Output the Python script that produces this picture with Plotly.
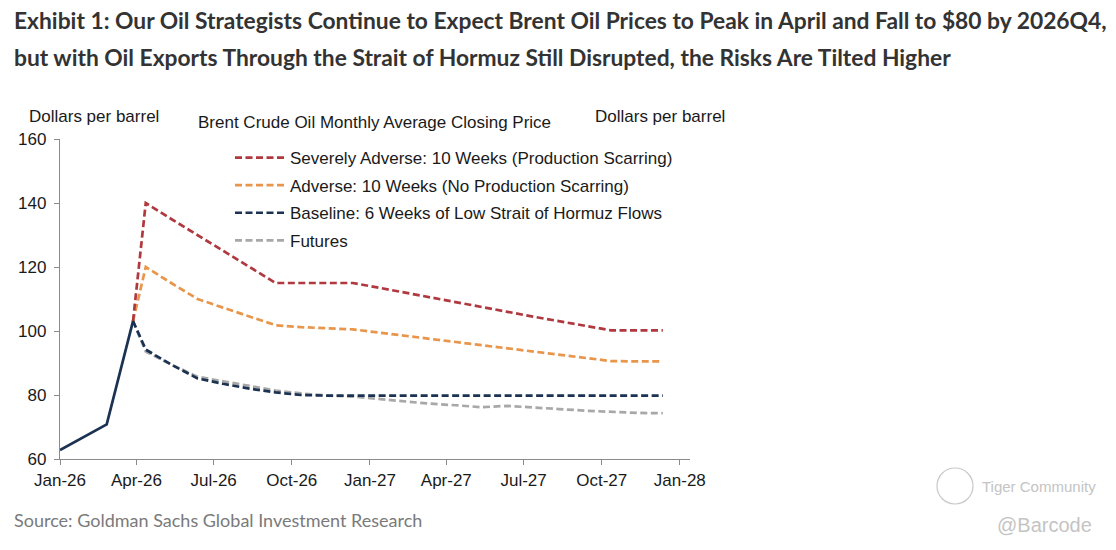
import plotly.graph_objects as go

# ---------------- data ----------------
hist_dates = ["2026-01-01", "2026-02-25", "2026-03-28"]
hist_vals = [62.8, 70.8, 103.1]

fc_dates = ["2026-03-28",
            "2026-04-12", "2026-05-12", "2026-06-12", "2026-07-12", "2026-08-12", "2026-09-12",
            "2026-10-12", "2026-11-12", "2026-12-12",
            "2027-01-12", "2027-02-12", "2027-03-12", "2027-04-12", "2027-05-12", "2027-06-12",
            "2027-07-12", "2027-08-12", "2027-09-12", "2027-10-12", "2027-11-12", "2027-12-12"]

severe_vals = [103.1, 140, 135, 130, 125, 120, 115, 115, 115, 115,
               113.5, 112, 110.5, 109, 107.5, 106, 104.5, 103, 101.5, 100.2, 100.2, 100.2]
adverse_vals = [103.1, 120, 115, 110, 107.3, 104.5, 101.8, 101.2, 100.8, 100.5,
                99.5, 98.5, 97.5, 96.5, 95.5, 94.5, 93.5, 92.5, 91.5, 90.6, 90.5, 90.5]
baseline_vals = [103.1, 94.2, 89.5, 85.2, 83.5, 82.0, 80.8, 80.0, 79.8, 79.8,
                 79.8, 79.8, 79.8, 79.8, 79.8, 79.8, 79.8, 79.8, 79.8, 79.8, 79.8, 79.8]
futures_vals = [103.1, 93.6, 89.5, 85.7, 84.3, 82.8, 81.4, 80.5, 79.8, 79.5,
                78.7, 78.0, 77.3, 76.8, 76.2, 76.6, 76.0, 75.6, 75.1, 74.7, 74.4, 74.3]

series_names = ["Severely Adverse: 10 Weeks (Production Scarring)",
                "Adverse: 10 Weeks (No Production Scarring)",
                "Baseline: 6 Weeks of Low Strait of Hormuz Flows",
                "Futures"]

x_tickvals = ["2026-01-01", "2026-04-01", "2026-07-01", "2026-10-01", "2027-01-01",
              "2027-04-01", "2027-07-01", "2027-10-01", "2028-01-01"]
x_ticktext = ["Jan-26", "Apr-26", "Jul-26", "Oct-26", "Jan-27", "Apr-27", "Jul-27", "Oct-27", "Jan-28"]
y_tickvals = [60, 80, 100, 120, 140, 160]

# ---------------- styling ----------------
W, H = 1116, 550
L, R, T, B = 60, 426, 139, 91
PW, PH = W - L - R, H - T - B

def px_x(px):
    return (px - L) / PW

def px_y(py):
    return (H - B - py) / PH

RED = "#B0393F"
ORANGE = "#E8964C"
NAVY = "#1B3252"
GRAY = "#A8A8A8"
AXIS = "#8A8A8A"
FONT = "Liberation Sans, Arial, sans-serif"
NARROW = "Lato, sans-serif"
DASH = "7px,3.5px"

fig = go.Figure()

fig.add_trace(go.Scatter(x=fc_dates, y=futures_vals, mode="lines", name=series_names[3],
                         line=dict(color=GRAY, width=2.7, dash=DASH), legendrank=4, legendgroup="g4"))
fig.add_trace(go.Scatter(x=fc_dates, y=adverse_vals, mode="lines", name=series_names[1],
                         line=dict(color=ORANGE, width=2.7, dash=DASH), legendrank=2, legendgroup="g2"))
fig.add_trace(go.Scatter(x=fc_dates, y=severe_vals, mode="lines", name=series_names[0],
                         line=dict(color=RED, width=2.7, dash=DASH), legendrank=1, legendgroup="g1"))
fig.add_trace(go.Scatter(x=fc_dates, y=baseline_vals, mode="lines", name=series_names[2],
                         line=dict(color=NAVY, width=2.7, dash=DASH), legendrank=3, legendgroup="g3"))
fig.add_trace(go.Scatter(x=hist_dates, y=hist_vals, mode="lines", name="History",
                         line=dict(color=NAVY, width=2.7), showlegend=False))

axis_common = dict(
    showline=True, linecolor=AXIS, linewidth=1.3, showgrid=False, zeroline=False,
    ticks="outside", ticklen=5, tickcolor=AXIS, tickwidth=1.3,
    tickfont=dict(family=FONT, size=17, color="#1a1a1a"),
)

fig.update_layout(
    width=W, height=H,
    margin=dict(l=L, r=R, t=T, b=B, autoexpand=False),
    paper_bgcolor="white", plot_bgcolor="white",
    font=dict(family=FONT, size=17, color="#1a1a1a"),
    xaxis=dict(type="date", range=["2026-01-01", "2028-01-13"],
               tickvals=x_tickvals, ticktext=x_ticktext, **axis_common),
    yaxis=dict(range=[60, 160], tickvals=y_tickvals, ticklabelstandoff=4, **axis_common),
    yaxis2=dict(range=[60, 160], tickvals=y_tickvals, overlaying="y", side="right",
                anchor="x", **axis_common),
    legend=dict(x=px_x(230), y=px_y(140), xanchor="left", yanchor="top",
                bgcolor="rgba(0,0,0,0)", font=dict(family=FONT, size=17, color="#1a1a1a"),
                itemwidth=50, tracegroupgap=2.5, traceorder="grouped"),
    showlegend=True,
)

annotations = [
    dict(text="Dollars per barrel", x=px_x(27), y=px_y(117), xanchor="left", yanchor="middle",
         font=dict(family=FONT, size=17, color="#1a1a1a")),
    dict(text="Brent Crude Oil Monthly Average Closing Price", x=px_x(196), y=px_y(123),
         xanchor="left", yanchor="middle", font=dict(family=FONT, size=17, color="#1a1a1a")),
    dict(text="Dollars per barrel", x=px_x(593), y=px_y(117), xanchor="left", yanchor="middle",
         font=dict(family=FONT, size=17, color="#1a1a1a")),
    dict(text="<b>Exhibit 1: Our Oil Strategists Continue to Expect Brent Oil Prices to Peak in April and Fall to $80 by 2026Q4,</b>",
         x=px_x(12), y=px_y(20), xanchor="left", yanchor="middle",
         font=dict(family=NARROW, size=22.8, color="#333333")),
    dict(text="<b>but with Oil Exports Through the Strait of Hormuz Still Disrupted, the Risks Are Tilted Higher</b>",
         x=px_x(12), y=px_y(57), xanchor="left", yanchor="middle",
         font=dict(family=NARROW, size=22.8, color="#333333")),
    dict(text="Source: Goldman Sachs Global Investment Research", x=px_x(12), y=px_y(520),
         xanchor="left", yanchor="middle", font=dict(family=NARROW, size=18, color="#7a7a7a")),
    dict(text="Tiger Community", x=px_x(980), y=px_y(486), xanchor="left", yanchor="middle",
         font=dict(family=FONT, size=15, color="#c4c4c4")),
    dict(text="@Barcode", x=px_x(1094), y=px_y(525), xanchor="right", yanchor="middle",
         font=dict(family=FONT, size=20, color="#c4c4c4")),
]
for a in annotations:
    a.update(xref="paper", yref="paper", showarrow=False)
fig.update_layout(annotations=annotations)

fig.add_shape(type="circle", xref="paper", yref="paper",
              x0=px_x(937), x1=px_x(973), y0=px_y(504), y1=px_y(468),
              line=dict(color="#c8c8c8", width=1.2))

fig.write_html("out.html", config={"displayModeBar": False},
               post_script="document.body.style.margin='0';")
